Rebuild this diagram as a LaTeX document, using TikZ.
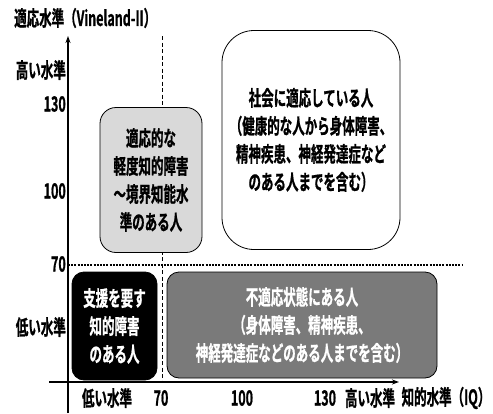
\documentclass[tikz,border=0pt]{standalone}
\usepackage{fontspec}
\setmainfont{Noto Sans CJK JP Bold}[FakeStretch=0.595,FakeBold=0.8]
\usetikzlibrary{arrows.meta}
\begin{document}
\begin{tikzpicture}[x=1pt,y=-1pt,
  lbl/.style={inner sep=0pt,font=\fontsize{21}{28}\selectfont},
  box/.style={draw=black,line width=0.8pt,align=center,inner sep=0pt,font=\fontsize{21}{28}\selectfont},
  axis/.style={-{Stealth[length=7pt,width=5pt]},line width=1.6pt}]
\useasboundingbox (0,0) rectangle (493,413);
% guides
\draw[line width=0.8pt,dash pattern=on 4pt off 2.5pt] (162,36) coordinate (vtop) -- (162,382) coordinate (vbot);
\draw[line width=1.2pt,dash pattern=on 2pt off 1.2pt] (68,265) coordinate (hl) -- (462,265) coordinate (hr);
% axes
\coordinate (yb) at (68,413);
\coordinate (yt) at (68,36);
\coordinate (xl) at (49,382);
\coordinate (xr) at (399,382);
\draw[axis] (yb) -- (yt);
\draw[axis,line width=2.4pt] (xl) -- (xr);
% boxes
\node[box,fill=black!15,rounded corners=16pt,minimum width=102pt,minimum height=145pt] (light) at (151,180) {適応的な\\軽度知的障害\\～境界知能水\\準のある人};
\node[box,fill=white,rounded corners=32pt,minimum width=178pt,minimum height=219pt] (white) at (311,140) {社会に適応している人\\（健康的な人から身体障害、\\精神疾患、神経発達症など\\のある人までを含む）};
\node[box,fill=black,text=white,rounded corners=12pt,minimum width=85pt,minimum height=108pt] (blk) at (114.5,326) {支援を要す\\知的障害\\のある人};
\node[box,fill=black!52,text=white,rounded corners=12pt,minimum width=270pt,minimum height=106pt] (dark) at (302,325) {不適応状態にある人\\（身体障害、精神疾患、\\神経発達症などのある人までを含む）};
% labels
\node[lbl,anchor=west] (ttl) at (14,18) {適応水準（Vineland-II）};
\node[lbl,anchor=east] (yh) at (66,70) {高い水準};
\node[lbl,anchor=east] (y130) at (66,104) {130};
\node[lbl,anchor=east] (y100) at (66,191) {100};
\node[lbl,anchor=east] (y70) at (66,264) {70};
\node[lbl,anchor=east] (yl) at (66,327) {低い水準};
\node[lbl] (xlo) at (107,398) {低い水準};
\node[lbl] (x70) at (161,398) {70};
\node[lbl] (x100) at (242,398) {100};
\node[lbl] (x130) at (325,398) {130};
\node[lbl] (xhi) at (370,398) {高い水準};
\node[lbl] (xt) at (446,398) {知的水準（IQ）};
\end{tikzpicture}
\end{document}
